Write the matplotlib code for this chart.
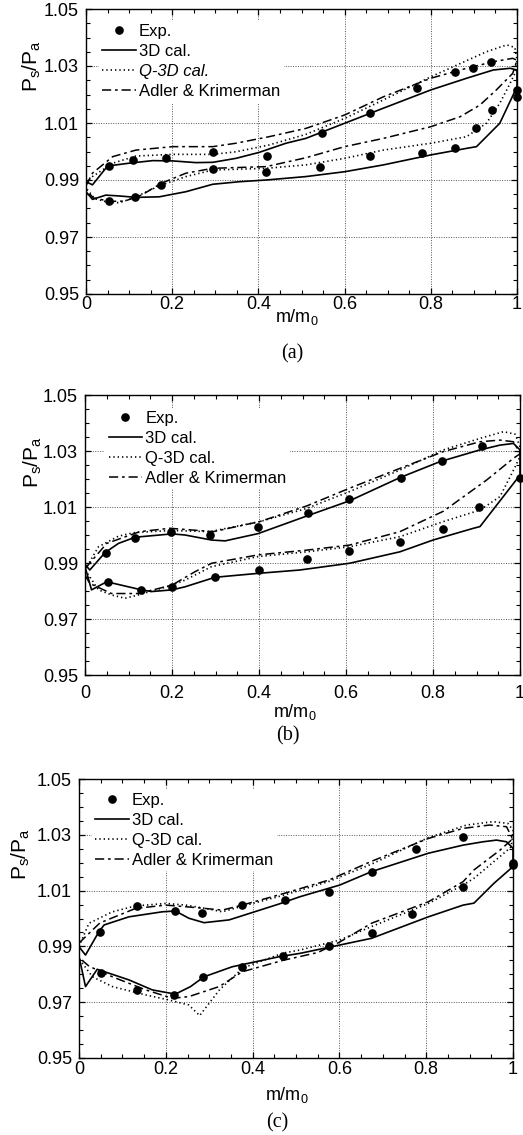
import matplotlib
matplotlib.use("Agg")
import matplotlib.pyplot as plt
from matplotlib.ticker import MultipleLocator, FixedLocator

plt.rcParams["font.family"] = ["Liberation Sans", "DejaVu Sans"]
plt.rcParams["mathtext.default"] = "regular"

# ---- panel (a) -------------------------------------------------------------
a_exp_up_x = [0.053, 0.11, 0.186, 0.294, 0.421, 0.547, 0.659, 0.767, 0.856, 0.897, 0.94, 1.0]
a_exp_up_y = [0.9949, 0.997, 0.9978, 0.9997, 0.9984, 1.0066, 1.0136, 1.0224, 1.0278, 1.0292, 1.0315, 1.0216]
a_exp_lo_x = [0.054, 0.114, 0.174, 0.295, 0.418, 0.543, 0.659, 0.779, 0.856, 0.904, 0.943, 1.0]
a_exp_lo_y = [0.9827, 0.9841, 0.9882, 0.9938, 0.9929, 0.9947, 0.9985, 0.9994, 1.0011, 1.0081, 1.0146, 1.019]

a_3d_up_x = [0, 0.015, 0.05, 0.1, 0.155, 0.201, 0.255, 0.294, 0.348, 0.402, 0.464, 0.51, 0.6, 0.69, 0.8, 0.883, 0.945, 0.984, 1.0]
a_3d_up_y = [0.9894, 0.9883, 0.9949, 0.9959, 0.9968, 0.9967, 0.9961, 0.9962, 0.9976, 0.9997, 1.0029, 1.0046, 1.0099, 1.0152, 1.0216, 1.0257, 1.0286, 1.0292, 1.0286]
a_3d_lo_x = [0, 0.015, 0.046, 0.077, 0.116, 0.17, 0.232, 0.294, 0.356, 0.418, 0.51, 0.6, 0.69, 0.8, 0.883, 0.906, 0.96, 1.0]
a_3d_lo_y = [0.9859, 0.9832, 0.9847, 0.9844, 0.9839, 0.9841, 0.9859, 0.9885, 0.9894, 0.99, 0.9912, 0.9929, 0.9953, 0.9988, 1.0011, 1.0017, 1.0099, 1.0227]

a_q3d_up_x = [0, 0.015, 0.062, 0.116, 0.201, 0.294, 0.348, 0.425, 0.51, 0.6, 0.69, 0.8, 0.86, 0.929, 0.976, 0.995, 1.0]
a_q3d_up_y = [0.989, 0.9912, 0.9959, 0.9984, 0.999, 0.999, 0.9999, 1.0023, 1.006, 1.0116, 1.0181, 1.0262, 1.0303, 1.035, 1.0374, 1.0365, 1.0321]
a_q3d_lo_x = [0, 0.02, 0.046, 0.077, 0.108, 0.174, 0.232, 0.294, 0.418, 0.51, 0.6, 0.69, 0.8, 0.883, 0.929, 0.96, 0.984, 0.995]
a_q3d_lo_y = [0.9872, 0.9835, 0.9824, 0.982, 0.9836, 0.9882, 0.9912, 0.9935, 0.9941, 0.9953, 0.9976, 1.0005, 1.0029, 1.0052, 1.0099, 1.0169, 1.0239, 1.0274]

a_ak_up_x = [0, 0.015, 0.062, 0.116, 0.201, 0.294, 0.348, 0.425, 0.51, 0.6, 0.69, 0.8, 0.883, 0.945, 0.99, 1.0]
a_ak_up_y = [0.988, 0.9924, 0.9982, 1.0005, 1.0017, 1.0017, 1.0029, 1.0052, 1.0081, 1.0128, 1.0192, 1.0257, 1.0292, 1.0315, 1.0327, 1.032]
a_ak_lo_x = [0, 0.017, 0.056, 0.09, 0.13, 0.174, 0.232, 0.294, 0.418, 0.51, 0.6, 0.69, 0.8, 0.868, 0.914, 0.952, 0.99]
a_ak_lo_y = [0.9866, 0.9837, 0.9825, 0.9826, 0.9848, 0.9888, 0.9924, 0.9941, 0.9947, 0.9978, 1.0017, 1.0046, 1.0087, 1.0122, 1.0163, 1.0216, 1.0274]

# ---- panel (b) -------------------------------------------------------------
b_exp_up_x = [0.048, 0.116, 0.198, 0.287, 0.398, 0.513, 0.608, 0.726, 0.82, 0.913, 1.0]
b_exp_up_y = [0.9937, 0.9988, 1.0011, 1.0001, 1.003, 1.0077, 1.0129, 1.0202, 1.0264, 1.0318, 1.0202]
b_exp_lo_x = [0.052, 0.129, 0.2, 0.299, 0.4, 0.51, 0.608, 0.724, 0.824, 0.906]
b_exp_lo_y = [0.9833, 0.9804, 0.9815, 0.9849, 0.9875, 0.9914, 0.9943, 0.9976, 1.0021, 1.0101]

b_3d_up_x = [0, 0.011, 0.046, 0.077, 0.115, 0.2, 0.23, 0.291, 0.322, 0.398, 0.51, 0.608, 0.724, 0.816, 0.908, 0.954, 0.985, 1.0]
b_3d_up_y = [0.9895, 0.9875, 0.9937, 0.997, 0.9992, 1.0004, 1.0, 0.9982, 0.9979, 1.0005, 1.0068, 1.0122, 1.0205, 1.0262, 1.0304, 1.0321, 1.0327, 1.0304]
b_3d_lo_x = [0, 0.015, 0.05, 0.13, 0.153, 0.2, 0.23, 0.299, 0.398, 0.494, 0.608, 0.724, 0.8, 0.893, 0.908, 1.0]
b_3d_lo_y = [0.9887, 0.9804, 0.9833, 0.9804, 0.9798, 0.9804, 0.9815, 0.9849, 0.9863, 0.9875, 0.9899, 0.994, 0.9982, 1.0024, 1.003, 1.0214]

b_q3d_up_x = [0, 0.031, 0.077, 0.115, 0.2, 0.287, 0.402, 0.51, 0.608, 0.724, 0.824, 0.908, 0.962, 0.989, 1.0]
b_q3d_up_y = [0.9875, 0.9958, 0.9996, 1.0009, 1.0016, 1.0012, 1.0048, 1.0095, 1.0155, 1.0232, 1.0304, 1.0345, 1.0369, 1.036, 1.0315]
b_q3d_lo_x = [0, 0.031, 0.061, 0.092, 0.123, 0.2, 0.23, 0.291, 0.398, 0.51, 0.608, 0.724, 0.824, 0.908, 0.954, 0.989, 1.0]
b_q3d_lo_y = [0.9876, 0.9804, 0.9786, 0.9774, 0.9786, 0.9821, 0.9839, 0.9887, 0.9923, 0.994, 0.9958, 0.9994, 1.0048, 1.0089, 1.0137, 1.0244, 1.028]

b_ak_up_x = [0, 0.05, 0.126, 0.195, 0.295, 0.402, 0.51, 0.608, 0.724, 0.824, 0.908, 0.954, 0.985, 1.0]
b_ak_up_y = [0.988, 0.997, 1.0012, 1.0024, 1.0012, 1.0048, 1.0104, 1.0167, 1.0238, 1.0298, 1.0333, 1.0339, 1.0333, 1.0292]
b_ak_lo_x = [0, 0.011, 0.061, 0.123, 0.2, 0.253, 0.291, 0.398, 0.51, 0.608, 0.724, 0.824, 0.923, 0.985, 1.0]
b_ak_lo_y = [0.9857, 0.9827, 0.9791, 0.9791, 0.9821, 0.9869, 0.9899, 0.9929, 0.9946, 0.9964, 1.0012, 1.0085, 1.0196, 1.0274, 1.029]

# ---- panel (c) -------------------------------------------------------------
c_exp_up_x = [0.048, 0.133, 0.221, 0.284, 0.376, 0.475, 0.576, 0.674, 0.776, 0.885, 1.0]
c_exp_up_y = [0.9953, 1.0045, 1.0027, 1.0019, 1.0048, 1.0068, 1.0096, 1.0168, 1.0249, 1.0291, 1.0198]
c_exp_lo_x = [0.05, 0.133, 0.219, 0.286, 0.375, 0.471, 0.576, 0.674, 0.768, 0.885, 1.0]
c_exp_lo_y = [0.9804, 0.9744, 0.9726, 0.9789, 0.9827, 0.9867, 0.9903, 0.9947, 1.0015, 1.0112, 1.0191]

c_3d_up_x = [0, 0.015, 0.046, 0.058, 0.115, 0.192, 0.222, 0.253, 0.288, 0.346, 0.461, 0.509, 0.601, 0.674, 0.805, 0.885, 0.931, 0.962, 0.985, 1.0]
c_3d_up_y = [0.9899, 0.9869, 0.9953, 0.9977, 1.0006, 1.0024, 1.0027, 1.0001, 0.9985, 0.9995, 1.0052, 1.0078, 1.012, 1.0168, 1.0234, 1.0263, 1.0275, 1.0281, 1.0275, 1.0252]
c_3d_lo_x = [0, 0.015, 0.042, 0.115, 0.169, 0.222, 0.257, 0.288, 0.353, 0.461, 0.509, 0.601, 0.674, 0.805, 0.885, 0.91, 0.956, 1.0]
c_3d_lo_y = [0.9864, 0.9756, 0.9818, 0.978, 0.9744, 0.9729, 0.9756, 0.9791, 0.9827, 0.9863, 0.9875, 0.9905, 0.9929, 1.0006, 1.0048, 1.0055, 1.0126, 1.0186]

c_q3d_up_x = [0, 0.023, 0.077, 0.13, 0.2, 0.246, 0.292, 0.33, 0.376, 0.475, 0.576, 0.674, 0.805, 0.893, 0.954, 0.988, 1.0]
c_q3d_up_y = [0.99, 0.9983, 1.0024, 1.0045, 1.0054, 1.0048, 1.0036, 1.0024, 1.0044, 1.0085, 1.0133, 1.0195, 1.029, 1.0335, 1.0347, 1.0341, 1.0317]
c_q3d_lo_x = [0, 0.031, 0.077, 0.154, 0.207, 0.253, 0.278, 0.324, 0.378, 0.47, 0.509, 0.601, 0.674, 0.805, 0.885, 0.91, 0.97, 0.996]
c_q3d_lo_y = [0.9856, 0.9791, 0.9756, 0.9726, 0.9708, 0.969, 0.9652, 0.9745, 0.9823, 0.9876, 0.9887, 0.9923, 0.9971, 1.0054, 1.012, 1.0144, 1.0222, 1.0257]

c_ak_up_x = [0, 0.048, 0.13, 0.2, 0.278, 0.33, 0.376, 0.475, 0.576, 0.674, 0.805, 0.885, 0.946, 0.985, 1.0]
c_ak_up_y = [0.9912, 0.9984, 1.0036, 1.0048, 1.0038, 1.003, 1.0048, 1.0091, 1.0138, 1.0205, 1.0287, 1.0323, 1.0335, 1.0329, 1.0283]
c_ak_lo_x = [0, 0.023, 0.077, 0.154, 0.215, 0.253, 0.323, 0.376, 0.47, 0.55, 0.6, 0.674, 0.805, 0.885, 0.91, 0.97, 0.996]
c_ak_lo_y = [0.986, 0.9829, 0.9791, 0.9744, 0.9714, 0.972, 0.9756, 0.9809, 0.985, 0.9878, 0.9915, 0.9983, 1.006, 1.0132, 1.0174, 1.0245, 1.0281]

X_TICKS = [0, 0.2, 0.4, 0.6, 0.8, 1.0]
X_TICK_LABELS = ["0", "0.2", "0.4", "0.6", "0.8", "1"]
Y_TICKS = [0.95, 0.97, 0.99, 1.01, 1.03, 1.05]
Y_TICK_LABELS = ["0.95", "0.97", "0.99", "1.01", "1.03", "1.05"]
LABELS = ["Exp.", "3D cal.", "Q-3D cal.", "Adler & Krimerman"]

W, H = 523, 1135
DASHDOT = (6, 2.5, 1.8, 2.5)


def px_rect(x0, y0, x1, y1):
    return [x0 / W, 1 - y1 / H, (x1 - x0) / W, (y1 - y0) / H]


def loop(ux, uy, lx, ly):
    # suction side left->right, then pressure side back right->left
    return list(ux) + list(lx)[::-1], list(uy) + list(ly)[::-1]


fig = plt.figure(figsize=(W / 100, H / 100), dpi=100)
fig.patch.set_facecolor("white")

panels = [
    dict(rect=px_rect(86, 9, 517, 294), tag="(a)", xpad=1.5,
         exp=(a_exp_up_x, a_exp_up_y, a_exp_lo_x, a_exp_lo_y),
         c3d=(a_3d_up_x, a_3d_up_y, a_3d_lo_x, a_3d_lo_y),
         q3d=(a_q3d_up_x, a_q3d_up_y, a_q3d_lo_x, a_q3d_lo_y),
         ak=(a_ak_up_x, a_ak_up_y, a_ak_lo_x, a_ak_lo_y),
         ylab=(-0.125, 0.80), xlab=(0.49, -0.08), tagpos=(0.478, -0.21),
         leg=(0.03, 0.958), italic=True),
    dict(rect=px_rect(85, 395, 520, 675), tag="(b)", xpad=7,
         exp=(b_exp_up_x, b_exp_up_y, b_exp_lo_x, b_exp_lo_y),
         c3d=(b_3d_up_x, b_3d_up_y, b_3d_lo_x, b_3d_lo_y),
         q3d=(b_q3d_up_x, b_q3d_up_y, b_q3d_lo_x, b_q3d_lo_y),
         ak=(b_ak_up_x, b_ak_up_y, b_ak_lo_x, b_ak_lo_y),
         ylab=(-0.12, 0.76), xlab=(0.483, -0.132), tagpos=(0.467, -0.218),
         leg=(0.047, 0.955), italic=False),
    dict(rect=px_rect(79, 779, 513, 1058), tag="(c)", xpad=2,
         exp=(c_exp_up_x, c_exp_up_y, c_exp_lo_x, c_exp_lo_y),
         c3d=(c_3d_up_x, c_3d_up_y, c_3d_lo_x, c_3d_lo_y),
         q3d=(c_q3d_up_x, c_q3d_up_y, c_q3d_lo_x, c_q3d_lo_y),
         ak=(c_ak_up_x, c_ak_up_y, c_ak_lo_x, c_ak_lo_y),
         ylab=(-0.135, 0.73), xlab=(0.479, -0.132), tagpos=(0.456, -0.232),
         leg=(0.03, 0.962), italic=False),
]

for p in panels:
    ax = fig.add_axes(p["rect"])
    ux, uy, lx, ly = p["exp"]
    ax.plot(ux + lx, uy + ly, "o", color="black", markersize=5.2, clip_on=False, zorder=5,
            label=LABELS[0])
    x, y = loop(*p["c3d"])
    ax.plot(x, y, "-", color="black", linewidth=1.2, label=LABELS[1], zorder=4)
    x, y = loop(*p["q3d"])
    ax.plot(x, y, color="black", linewidth=1.2, linestyle=(0, (0.8, 1.8)), label=LABELS[2], zorder=3)
    x, y = loop(*p["ak"])
    ax.plot(x, y, color="black", linewidth=1.1, linestyle=(0, DASHDOT), label=LABELS[3], zorder=3)

    ax.set_xlim(0, 1)
    ax.set_ylim(0.95, 1.05)
    ax.xaxis.set_major_locator(FixedLocator(X_TICKS))
    ax.set_xticklabels(X_TICK_LABELS)
    ax.yaxis.set_major_locator(FixedLocator(Y_TICKS))
    ax.set_yticklabels(Y_TICK_LABELS)
    ax.xaxis.set_minor_locator(MultipleLocator(0.05))
    ax.yaxis.set_minor_locator(MultipleLocator(0.005))
    ax.tick_params(which="both", direction="in", top=True, right=True, colors="black", labelsize=13)
    ax.tick_params(which="major", length=4.5, width=0.9)
    ax.tick_params(which="minor", length=2.8, width=0.8)
    ax.tick_params(axis="x", pad=p["xpad"])
    ax.tick_params(axis="y", pad=5)
    ax.grid(True, which="major", linestyle=(0, (1, 1.5)), color="#555555", linewidth=0.7)
    ax.set_axisbelow(True)
    for s in ax.spines.values():
        s.set_linewidth(1.0)

    ax.text(p["ylab"][0], p["ylab"][1], "$P_s/P_a$", transform=ax.transAxes, rotation=90,
            ha="center", va="center", fontsize=15)
    ax.text(p["xlab"][0], p["xlab"][1], "m/m$_0$", transform=ax.transAxes,
            ha="center", va="center", fontsize=13)
    ax.text(p["tagpos"][0], p["tagpos"][1], p["tag"], transform=ax.transAxes,
            ha="center", va="center", fontsize=14.5, family="Liberation Serif")

    leg = ax.legend(loc="upper left", bbox_to_anchor=p["leg"], fontsize=12, frameon=True,
                    fancybox=False, framealpha=1, edgecolor="none", facecolor="white",
                    handlelength=2.0, handletextpad=0.2, labelspacing=0.3, borderpad=0.2,
                    borderaxespad=0.0, numpoints=1)
    if p["italic"]:
        leg.get_texts()[2].set_style("italic")

fig.savefig("out.png", dpi=100, facecolor="white")
